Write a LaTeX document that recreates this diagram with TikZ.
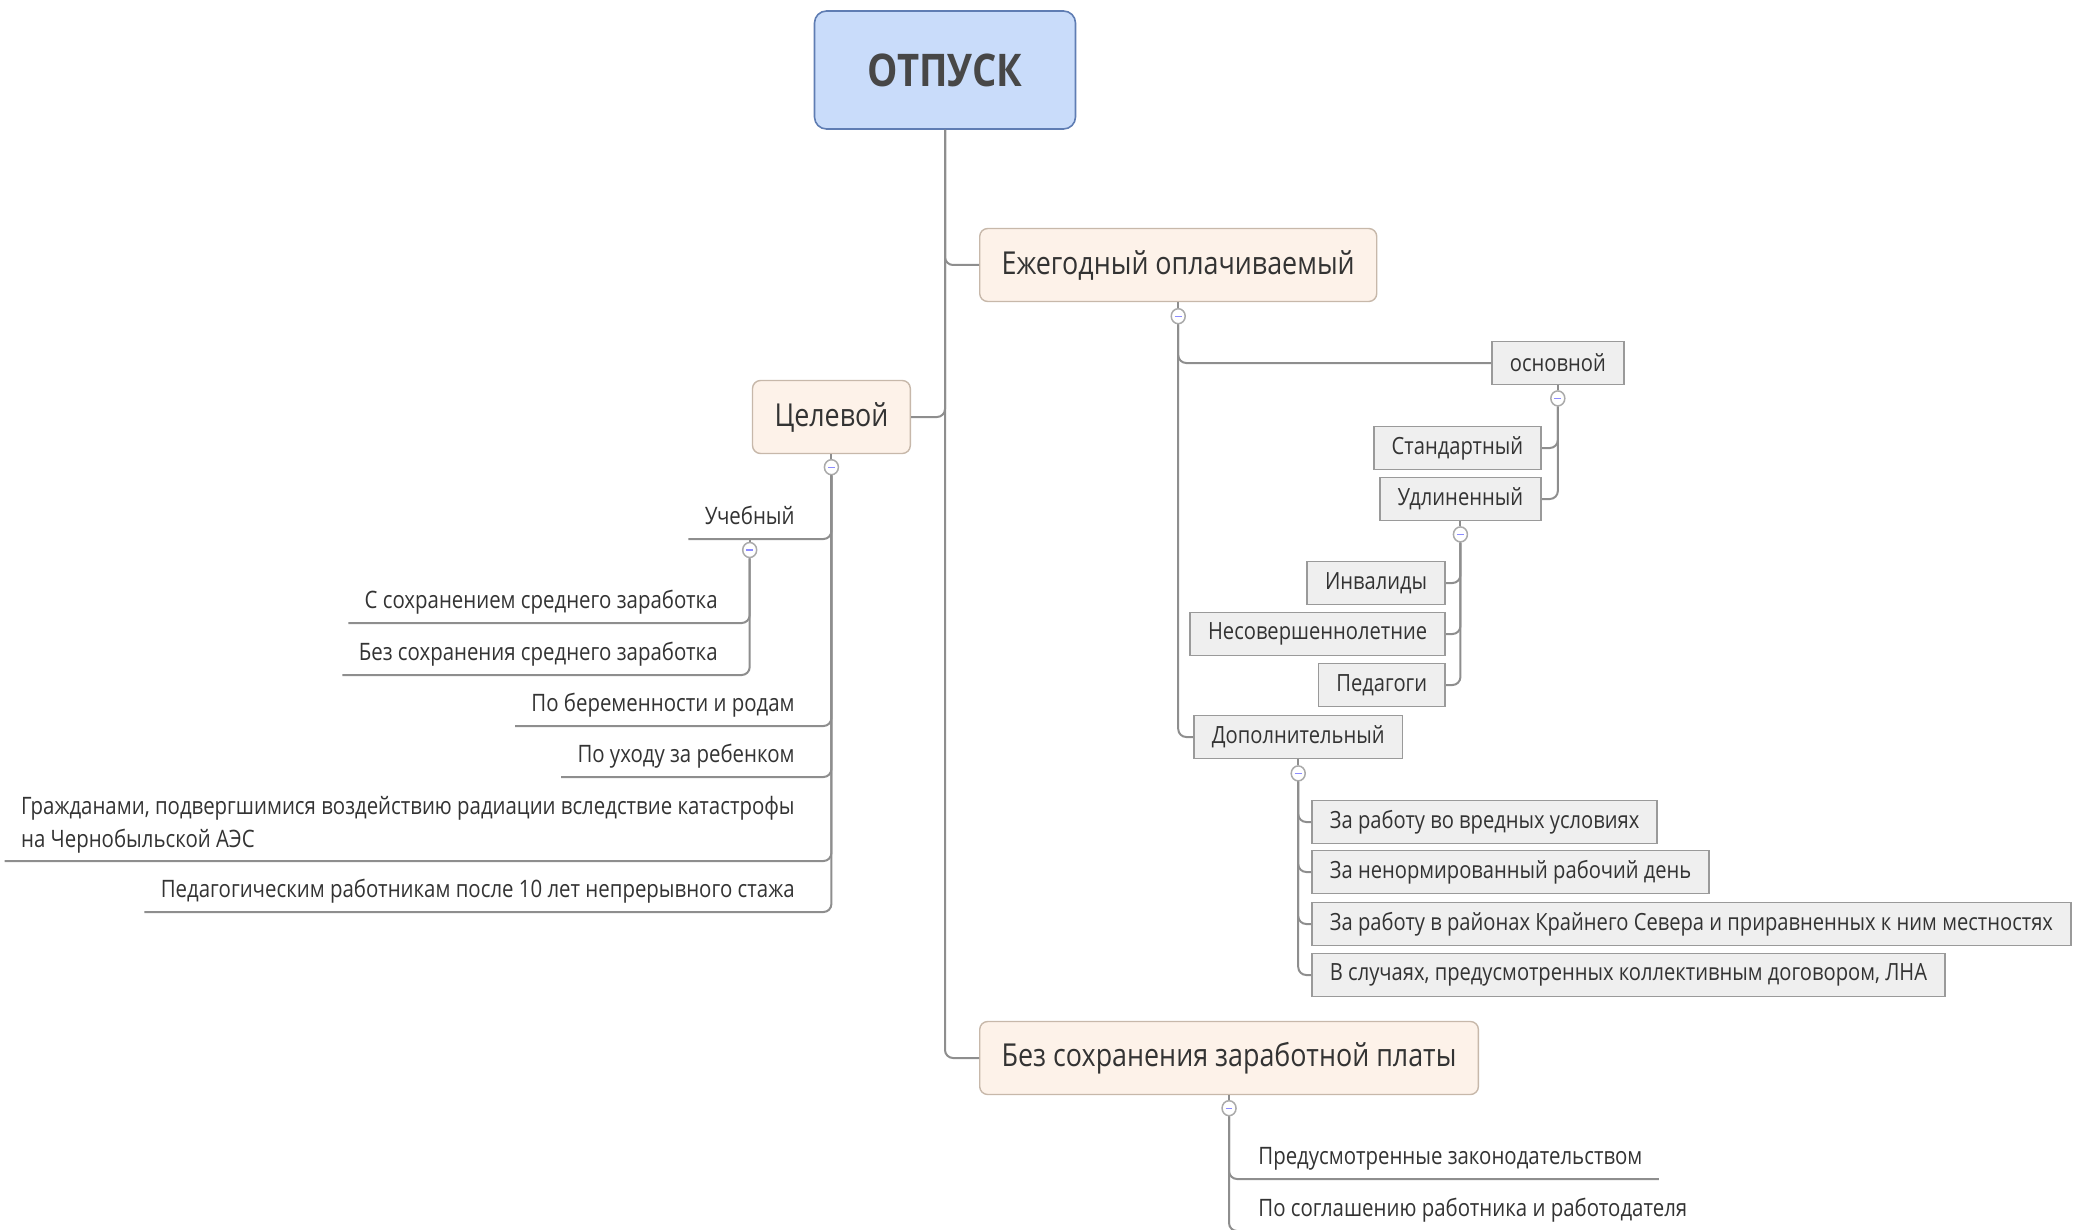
\documentclass[tikz,border=0pt]{standalone}
\usepackage{fontspec}
\setmainfont[FakeStretch=0.85]{Open Sans}
\usetikzlibrary{calc,shapes.geometric}
\definecolor{RootFill}{HTML}{C9DCFA}
\definecolor{RootLine}{HTML}{5F7DB3}
\definecolor{TopicFill}{HTML}{FDF2E9}
\definecolor{TopicLine}{HTML}{C7B8AA}
\definecolor{BoxFill}{HTML}{EFEFEF}
\definecolor{BoxLine}{HTML}{9A9A9A}
\definecolor{WireGray}{HTML}{8E8E8E}
\definecolor{InkGray}{HTML}{333333}
\tikzset{%
	% Style of the central node
	Root/.style={draw=RootLine,fill=RootFill,rounded corners=6pt,line width=0.8pt,minimum width=130.5pt,minimum height=59pt,font=\fontsize{22.5}{27}\selectfont\bfseries,text=InkGray!90},
	% Style of the main topics
	Topic/.style={draw=TopicLine,fill=TopicFill,rounded corners=4pt,line width=0.7pt,inner xsep=11pt,minimum height=36.5pt,font=\fontsize{15.8}{19}\selectfont,text=InkGray},
	% Style of the grey boxes
	SubBox/.style={draw=BoxLine,fill=BoxFill,line width=0.9pt,inner xsep=9pt,minimum height=21.5pt,font=\fontsize{11.85}{15}\selectfont,text=InkGray},
	% Style of the underlined leaves
	Leaf/.style={inner xsep=8pt,inner ysep=0pt,minimum height=20pt,text height=9pt,text depth=3pt,font=\fontsize{12}{16.5}\selectfont,text=InkGray},
	% Style of the collapse toggle
	Toggle/.style={ellipse,draw=WireGray!75,fill=white,line width=0.75pt,inner sep=0,minimum width=7pt,minimum height=7.5pt,path picture={\draw[blue!45,line width=0.6pt](-1.7pt,0)--(1.7pt,0);}},
	% Style of the branch
	Connection/.style={draw=WireGray,line width=1pt,rounded corners=4pt},
}
\begin{document}
\begin{tikzpicture}[x=0.5pt,y=-0.5pt]
\useasboundingbox (0,0) rectangle (2082,1230);

%~~~~~~~~~~~~~~~~~~~~~~~~~~~~~~~~~~~~~~~~~~~~~~~~~~
% Set Nodes
%~~~~~~~~~~~~~~~~~~~~~~~~~~~~~~~~~~~~~~~~~~~~~~~~~~
\node[Root] (N1) at (945, 70) {ОТПУСК};

\node[Topic, anchor=west] (N2) at (979, 265) {Ежегодный оплачиваемый};
\node[Toggle] (T1) at ($ (N2.south) + (0, 14) $) {};

\node[Topic, anchor=east] (N3) at (911, 417) {Целевой};
\node[Toggle] (T6) at ($ (N3.south) + (0, 13) $) {};

\node[Topic, anchor=west] (N4) at (979, 1058) {Без сохранения заработной платы};
\node[Toggle] (T5) at ($ (N4.south) + (0, 13) $) {};

% right side, annual leave
\node[SubBox, anchor=west] (N5) at (1491, 363) {основной};
\node[Toggle] (T2) at ($ (N5.south) + (0, 13) $) {};

\node[SubBox, anchor=east] (N6) at (1542, 448) {Стандартный};
\node[SubBox, anchor=east] (N7) at (1542, 499) {Удлиненный};
\node[Toggle] (T3) at ($ (N7.south) + (0, 13) $) {};

\node[SubBox, anchor=east] (N8) at (1446, 583) {Инвалиды};
\node[SubBox, anchor=east] (N9) at (1446, 634) {Несовершеннолетние};
\node[SubBox, anchor=east] (N10) at (1446, 685) {Педагоги};

\node[SubBox, anchor=west] (N11) at (1193, 737) {Дополнительный};
\node[Toggle] (T4) at ($ (N11.south) + (0, 14) $) {};

\node[SubBox, anchor=west] (N12) at (1311, 822) {За работу во вредных условиях};
\node[SubBox, anchor=west] (N13) at (1311, 872) {За ненормированный рабочий день};
\node[SubBox, anchor=west] (N14) at (1311, 924) {За работу в районах Крайнего Севера и приравненных к ним местностях};
\node[SubBox, anchor=west] (N15) at (1311, 975) {В случаях, предусмотренных коллективным договором, ЛНА};

% bottom, unpaid leave
\node[Leaf, anchor=south west] (N16) at (1242, 1179) {Предусмотренные законодательством};
\node[Leaf, anchor=south west] (N17) at (1242, 1231) {По соглашению работника и работодателя};

% left side, special leave
\node[Leaf, anchor=south east] (N18) at (811, 539) {Учебный};
\node[Toggle] (T7) at ($ (N18.south) + (0, 11) $) {};

\node[Leaf, anchor=south east] (N19) at (734, 623) {С сохранением среднего заработка};
\node[Leaf, anchor=south east] (N20) at (734, 675) {Без сохранения среднего заработка};

\node[Leaf, anchor=south east] (N21) at (811, 726) {По беременности и родам};
\node[Leaf, anchor=south east] (N22) at (811, 777) {По уходу за ребенком};
\node[Leaf, anchor=south east, align=left, text height={}, text depth={}, minimum height=0pt, inner ysep=3.5pt] (N23) at (811, 861) {Гражданами, подвергшимися воздействию радиации вследствие катастрофы\\на Чернобыльской АЭС};
\node[Leaf, anchor=south east] (N24) at (811, 912) {Педагогическим работникам после 10 лет непрерывного стажа};

%~~~~~~~~~~~~~~~~~~~~~~~~~~~~~~~~~~~~~~~~~~~~~~~~~~
% Set Branches
%~~~~~~~~~~~~~~~~~~~~~~~~~~~~~~~~~~~~~~~~~~~~~~~~~~
%Branches from Node N1
\draw[Connection] (N1.south) |- (N2.west);
\draw[Connection] (N1.south) |- (N3.east);
\draw[Connection] (N1.south) |- (N4.west);

%Branches from Node N2
\draw[Connection] (N2.south) -- (T1);
\draw[Connection] (T1.south) |- (N5.west);
\draw[Connection] (T1.south) |- (N11.west);

%Branches from Node N5
\draw[Connection] (N5.south) -- (T2);
\draw[Connection] (T2.south) |- (N6.east);
\draw[Connection] (T2.south) |- (N7.east);

%Branches from Node N7
\draw[Connection] (N7.south) -- (T3);
\draw[Connection] (T3.south) |- (N8.east);
\draw[Connection] (T3.south) |- (N9.east);
\draw[Connection] (T3.south) |- (N10.east);

%Branches from Node N11
\draw[Connection] (N11.south) -- (T4);
\draw[Connection] (T4.south) |- (N12.west);
\draw[Connection] (T4.south) |- (N13.west);
\draw[Connection] (T4.south) |- (N14.west);
\draw[Connection] (T4.south) |- (N15.west);

%Branches from Node N4
\draw[Connection] (N4.south) -- (T5);
\draw[Connection] (T5.south) |- (N16.south east);
\draw[Connection] (T5.south) |- (N17.south east);

%Branches from Node N3
\draw[Connection] (N3.south) -- (T6);
\draw[Connection] (T6.south) |- (N18.south west);
\draw[Connection] (T6.south) |- (N21.south west);
\draw[Connection] (T6.south) |- (N22.south west);
\draw[Connection] (T6.south) |- (N23.south west);
\draw[Connection] (T6.south) |- (N24.south west);

%Branches from Node N18
\draw[Connection] (N18.south) -- (T7);
\draw[Connection] (T7.south) |- (N19.south west);
\draw[Connection] (T7.south) |- (N20.south west);

\end{tikzpicture}
\end{document}
